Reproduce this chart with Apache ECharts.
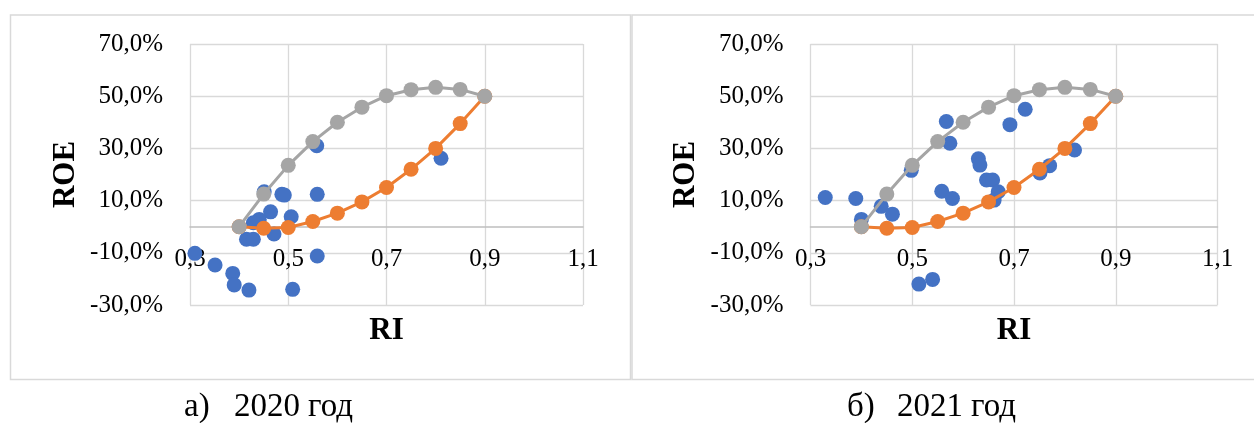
<!DOCTYPE html>
<html>
<head>
<meta charset="utf-8">
<script src="https://cdn.jsdelivr.net/npm/echarts@6/dist/echarts.min.js"></script>
<style>
  html, body { margin: 0; padding: 0; background: #fff; }
  #chart { width: 1254px; height: 423px; }
</style>
</head>
<body>
<div id="chart"></div>
<script>
// Observed companies: RI (x) and ROE in percent (y)
const ri2020 = [0.310, 0.351, 0.387, 0.390, 0.420, 0.509, 0.559, 0.559, 0.451, 0.487, 0.492, 0.464, 0.506, 0.441, 0.429, 0.415, 0.429, 0.471, 0.558, 0.811];
const roe2020 = [-10.2, -14.7, -17.9, -22.3, -24.3, -24.0, -11.2, 12.4, 13.4, 12.4, 12.1, 5.7, 3.8, 2.8, 1.5, -4.8, -4.8, -2.8, 31.0, 26.2];

const ri2021 = [0.329, 0.389, 0.400, 0.439, 0.461, 0.498, 0.513, 0.540, 0.558, 0.579, 0.567, 0.574, 0.630, 0.633, 0.646, 0.658, 0.669, 0.661, 0.692, 0.722, 0.751, 0.770, 0.819];
const roe2021 = [11.2, 10.8, 2.8, 7.8, 4.8, 21.6, -22.0, -20.2, 13.6, 10.8, 40.3, 32.0, 26.0, 23.6, 17.9, 17.9, 13.4, 10.2, 39.1, 45.0, 20.6, 23.4, 29.4];

// Boundary curves (same in both years)
const curveRI = [0.40, 0.45, 0.50, 0.55, 0.60, 0.65, 0.70, 0.75, 0.80, 0.85, 0.90];
const upperROE = [0, 12.5, 23.5, 32.6, 40.0, 45.8, 50.2, 52.5, 53.4, 52.6, 50.0];
const lowerROE = [0, -0.6, -0.3, 2.0, 5.2, 9.5, 15.0, 22.0, 30.0, 39.5, 50.0];

// Axis ticks
const xTicks = { min: 0.3, max: 1.1, step: 0.2 };
const yTicks = { min: -30, max: 70, step: 20 };

// Panel captions: letter, year, word
const captionLetters = ['а)', 'б)'];
const captionYears = ['2020', '2021'];
const captionWord = 'год';

const FONT = '"Liberation Serif", "Times New Roman", serif';
const BLUE = '#4472C4', ORANGE = '#ED7D31', GRAY = '#A5A5A5';
const GRID_LINE = '#d9d9d9';

const PLOT_TOP = 44, PLOT_H = 261;
// the horizontal axis crosses the vertical one at ROE = 0
const zeroLift = (0 - yTicks.min) / (yTicks.max - yTicks.min) * PLOT_H;

const pairs = (xs, ys) => xs.map((x, i) => [x, ys[i]]);
const comma = (v, d) => v.toFixed(d).replace('.', ',');

function xAxisFor(idx) {
  return {
    gridIndex: idx, type: 'value', position: 'bottom', offset: -zeroLift,
    min: xTicks.min, max: xTicks.max, interval: xTicks.step,
    name: 'RI', nameLocation: 'middle', nameGap: 89,
    nameTextStyle: { fontFamily: FONT, fontSize: 31, fontWeight: 'bold', color: '#000' },
    axisLine: { show: true, onZero: false, lineStyle: { color: '#bfbfbf', width: 1.5 } },
    axisTick: { show: false },
    axisLabel: { fontFamily: FONT, fontSize: 25, color: '#000', margin: 20,
                 formatter: v => comma(v, 1) },
    splitLine: { show: true, lineStyle: { color: GRID_LINE, width: 1.3 } }
  };
}
function yAxisFor(idx) {
  return {
    gridIndex: idx, type: 'value',
    min: yTicks.min, max: yTicks.max, interval: yTicks.step,
    name: 'ROE', nameLocation: 'middle', nameRotate: 90, nameGap: 109,
    nameTextStyle: { fontFamily: FONT, fontSize: 31, fontWeight: 'bold', color: '#000' },
    axisLine: { show: false },
    axisTick: { show: false },
    axisLabel: { fontFamily: FONT, fontSize: 25, color: '#000', margin: 27,
                 formatter: v => comma(v, 1) + '%' },
    splitLine: { show: true, lineStyle: { color: GRID_LINE, width: 1.3 } }
  };
}
function seriesFor(idx, ri, roe) {
  return [
    { type: 'scatter', xAxisIndex: idx, yAxisIndex: idx, data: pairs(ri, roe),
      symbol: 'circle', symbolSize: 15, itemStyle: { color: BLUE, opacity: 1 }, z: 2 },
    { type: 'line', xAxisIndex: idx, yAxisIndex: idx, data: pairs(curveRI, lowerROE),
      symbol: 'circle', symbolSize: 15, showSymbol: true,
      lineStyle: { color: ORANGE, width: 3 }, itemStyle: { color: ORANGE, opacity: 1 }, z: 3 },
    { type: 'line', xAxisIndex: idx, yAxisIndex: idx, data: pairs(curveRI, upperROE),
      symbol: 'circle', symbolSize: 15, showSymbol: true,
      lineStyle: { color: GRAY, width: 3 }, itemStyle: { color: GRAY, opacity: 1 }, z: 4 }
  ];
}
function caption(i, x) {
  return {
    type: 'text', x: x, y: 407,
    style: {
      text: '{a|' + captionLetters[i] + '}{b|' + captionYears[i] + '}{c|' + captionWord + '}',
      font: '33px ' + FONT, fill: '#000', textVerticalAlign: 'middle',
      rich: {
        a: { width: 50, fontSize: 33, fontFamily: FONT },
        b: { width: 74, fontSize: 33, fontFamily: FONT },
        c: { fontSize: 33, fontFamily: FONT }
      }
    }
  };
}

const chart = echarts.init(document.getElementById('chart'), null, { renderer: 'canvas' });
chart.setOption({
  animation: false,
  backgroundColor: '#fff',
  grid: [
    { left: 190, top: PLOT_TOP, width: 393, height: PLOT_H, containLabel: false, outerBoundsMode: 'none' },
    { left: 810.5, top: PLOT_TOP, width: 407, height: PLOT_H, containLabel: false, outerBoundsMode: 'none' }
  ],
  xAxis: [xAxisFor(0), xAxisFor(1)],
  yAxis: [yAxisFor(0), yAxisFor(1)],
  series: [...seriesFor(0, ri2020, roe2020), ...seriesFor(1, ri2021, roe2021)],
  graphic: [
    { type: 'rect', shape: { x: 10.5, y: 15, width: 620, height: 364.5 },
      style: { fill: 'none', stroke: GRID_LINE, lineWidth: 1.5 }, silent: true },
    { type: 'rect', shape: { x: 632, y: 15, width: 640, height: 364.5 },
      style: { fill: 'none', stroke: GRID_LINE, lineWidth: 1.5 }, silent: true },
    caption(0, 184),
    caption(1, 847)
  ]
});
</script>
</body>
</html>
